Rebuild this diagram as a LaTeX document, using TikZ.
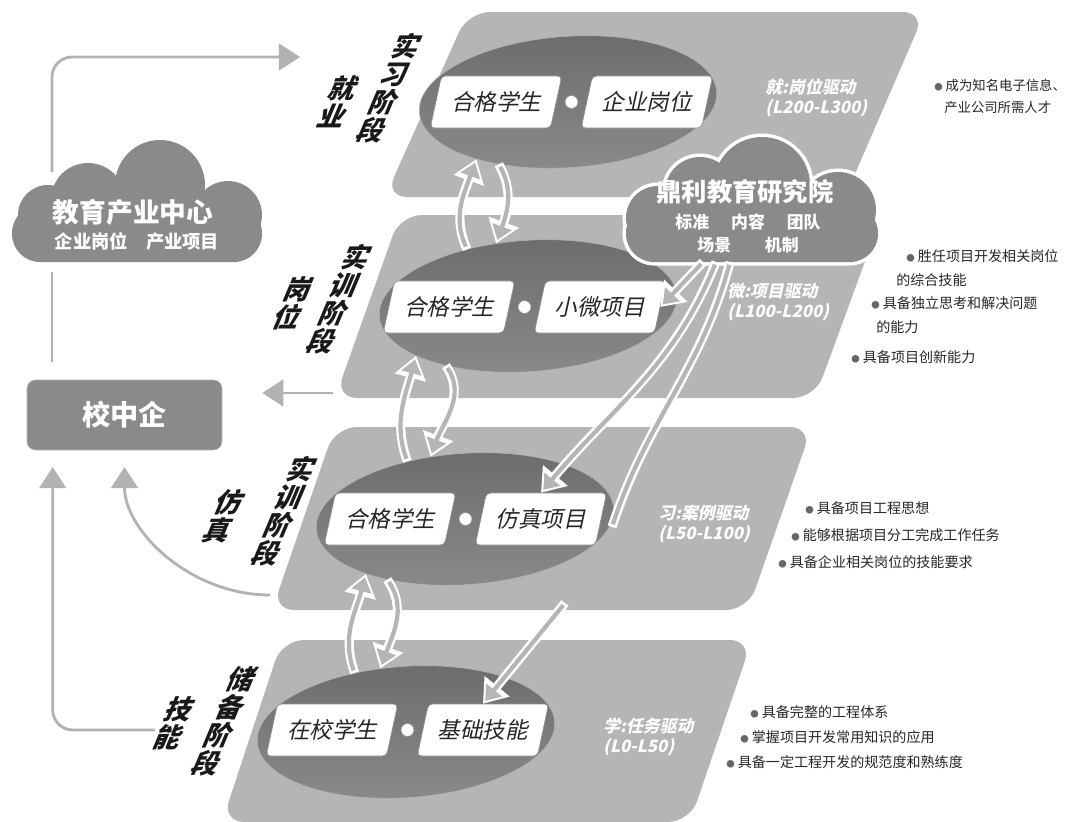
\documentclass[tikz,border=0pt]{standalone}
\usepackage{fontspec}
\setmainfont{Noto Sans CJK SC}
\newfontfamily\slantfont{Noto Sans CJK SC}[FakeSlant=0.22]
\usetikzlibrary{shapes.geometric, arrows.meta, positioning}

\definecolor{panelgray}{HTML}{B5B5B5}
\definecolor{ovaltop}{HTML}{6C6C6C}
\definecolor{ovalbot}{HTML}{8A8A8A}
\definecolor{cloudgray}{HTML}{8A8A8A}
\definecolor{linegray}{HTML}{B2B2B2}

\tikzstyle{panel} = [fill=panelgray, rounded corners=0.55cm]
\tikzstyle{oval} = [
  ellipse, rotate=4, inner sep=0pt, minimum width=7.45cm, minimum height=3.28cm,
  top color=ovaltop, bottom color=ovalbot, draw=black!30
]
\tikzstyle{tag} = [
  trapezium, trapezium left angle=66, trapezium right angle=114,
  trapezium stretches=true, minimum width=3.3cm, minimum height=1.3cm,
  inner sep=0pt, fill=white, draw=black!45, rounded corners=3pt,
  text=black!85, font=\slantfont\fontsize{16}{18}\selectfont
]
\tikzstyle{joint} = [circle, fill=white, draw=black!40, minimum size=0.32cm, inner sep=0pt]
\tikzstyle{stagelbl} = [
  anchor=north, align=center, inner sep=0pt, xslant=0.42,
  text=black!90, font=\bfseries\fontsize{19}{20}\selectfont
]
\tikzstyle{drive} = [
  anchor=west, align=left, inner sep=0pt, text=white,
  font=\slantfont\bfseries\fontsize{12}{14}\selectfont
]
\tikzstyle{goal} = [anchor=west, inner sep=0pt, text=black!85, font=\fontsize{10}{12}\selectfont]
\tikzstyle{cloudtext} = [inner sep=0pt, text=white, font=\bfseries]
\tikzset{
  hollow/.style={
    draw=panelgray, line width=3pt, shorten <=2pt, shorten >=2.6pt,
    -{Triangle[length=10pt,width=14pt]},
    preaction={draw=white, line width=6.5pt, shorten <=0pt, shorten >=0pt,
      -{Triangle[length=16pt,width=22pt]}}
  },
  hollowbar/.style={
    draw=panelgray, line width=3pt, shorten <=2pt, shorten >=2pt,
    preaction={draw=white, line width=6.5pt, shorten <=0pt, shorten >=0pt}
  },
  feed/.style={draw=linegray, line width=2pt, -{Triangle[length=15pt,width=19pt]}},
  feedline/.style={draw=linegray, line width=2pt},
  puffline/.style={draw=white, line width=5pt},
  puff/.style={fill=cloudgray}
}
\newcommand\dotb{{\color{black!60}\fontsize{6}{6}\selectfont ●}\ }

\begin{document}
\begin{tikzpicture}[x=0.025cm, y=-0.025cm]
\useasboundingbox (0,0) rectangle (1073,822);

% ------------------------------------------------
% PANELES (cuatro etapas)
% ------------------------------------------------

\fill[panel] (468,12) -- (925,12) -- (845,197) -- (385,197) -- cycle;
\fill[panel] (400,215) -- (882,215) -- (815,398) -- (335,398) -- cycle;
\fill[panel] (335,427) -- (812,427) -- (748,610) -- (272,610) -- cycle;
\fill[panel] (282,640) -- (752,640) -- (690,822) -- (222,822) -- cycle;

% ------------------------------------------------
% ELIPSES Y CAJAS
% ------------------------------------------------

\node[oval] (e1) at (568,102) {};
\node[oval] (e2) at (528,306) {};
\node[oval] (e3) at (465,519) {};
\node[oval] (e4) at (406,732) {};

\node[tag] (b11) at (496,102) {合格学生};
\node[joint, right=0.21cm of b11] (d1) {};
\node[tag, right=0.21cm of d1] (b12) {企业岗位};

\node[tag] (b21) at (449,307) {合格学生};
\node[joint, right=0.21cm of b21] (d2) {};
\node[tag, right=0.21cm of d2] (b22) {小微项目};

\node[tag] (b31) at (390,519) {合格学生};
\node[joint, right=0.21cm of b31] (d3) {};
\node[tag, right=0.21cm of d3] (b32) {仿真项目};

\node[tag] (b41) at (332,730) {在校学生};
\node[joint, right=0.21cm of b41] (d4) {};
\node[tag, right=0.21cm of d4] (b42) {基础技能};

% ------------------------------------------------
% ETIQUETAS DE ETAPA
% ------------------------------------------------

\node[stagelbl] (s1a) at (413,33) {实\\习\\阶\\段};
\node[stagelbl] (s1b) at (350,75) {就\\业};
\node[stagelbl] (s2a) at (363,244) {实\\训\\阶\\段};
\node[stagelbl] (s2b) at (305,276) {岗\\位};
\node[stagelbl] (s3a) at (308,456) {实\\训\\阶\\段};
\node[stagelbl] (s3b) at (236,489) {仿\\真};
\node[stagelbl] (s4a) at (248,666) {储\\备\\阶\\段};
\node[stagelbl] (s4b) at (186,696) {技\\能};

\node[drive] (v1) at (765,98) {就:岗位驱动\\(L200-L300)};
\node[drive] (v2) at (727,302) {微:项目驱动\\(L100-L200)};
\node[drive] (v3) at (658,524) {习:案例驱动\\(L50-L100)};
\node[drive] (v4) at (603,737) {学:任务驱动\\(L0-L50)};

% ------------------------------------------------
% NUBES Y CAJA IZQUIERDA
% ------------------------------------------------

\foreach \cx/\cy/\r in {48/215/30, 88/200/37, 160/185/45, 228/215/34}
  \draw[puffline] (\cx,\cy) circle[radius=\r];
\draw[puffline, rounded corners=0.7cm] (12,205) rectangle (262,262);
\foreach \cx/\cy/\r in {48/215/30, 88/200/37, 160/185/45, 228/215/34}
  \fill[puff] (\cx,\cy) circle[radius=\r];
\fill[puff, rounded corners=0.7cm] (12,205) rectangle (262,262);

\node[cloudtext] (edu) at (133,212)
  {\fontsize{19}{21}\selectfont 教育产业中心};
\node[cloudtext] (eduSub) at (137,242)
  {\fontsize{13}{15}\selectfont 企业岗位\quad 产业项目};

\foreach \cx/\cy/\r in {658/218/32, 700/192/35, 762/185/48, 838/210/38}
  \draw[puffline] (\cx,\cy) circle[radius=\r];
\draw[puffline, rounded corners=0.7cm] (626,205) rectangle (878,262);
\foreach \cx/\cy/\r in {658/218/32, 700/192/35, 762/185/48, 838/210/38}
  \fill[puff] (\cx,\cy) circle[radius=\r];
\fill[puff, rounded corners=0.7cm] (626,205) rectangle (878,262);

\node[cloudtext] (dl) at (745,192)
  {\fontsize{18}{20}\selectfont 鼎利教育研究院};
\node[cloudtext] (dlA) at (748,222)
  {\fontsize{12}{14}\selectfont 标准\hspace{1.3em}内容\hspace{1.3em}团队};
\node[cloudtext] (dlB) at (748,245)
  {\fontsize{12}{14}\selectfont 场景\hspace{2em}机制};

\node[fill=cloudgray, draw=black!25, rounded corners=6pt, minimum width=4.875cm,
  minimum height=1.75cm, text=white, font=\bfseries\fontsize{20}{22}\selectfont]
  (xzq) at (124.5,415) {校中企};

% ------------------------------------------------
% FLECHAS HUECAS
% ------------------------------------------------

\coordinate (ray1) at (703,262);
\coordinate (ray2) at (716,262);
\coordinate (ray3) at (730,262);
\coordinate (r3end) at (612,527);
\coordinate (r4start) at (565,603);

\draw[hollow] (ray1) -- (b22.east);
\draw[hollow] (ray2) to[out=-112, in=50] (b32.north);
\draw[hollowbar] (ray3) to[out=-105, in=72] (r3end);
\draw[hollow] (r4start) -- (b42.north);

\draw[hollow] (e2.133) to[out=115, in=250] (e1.208);
\draw[hollow] (e1.218) to[out=-60, in=70] (e2.113);

\draw[hollow] (e3.131) to[out=110, in=255] (e2.200);
\draw[hollow] (e2.212) to[out=-55, in=70] (e3.115);

\draw[hollow] (e4.127) to[out=110, in=255] (e3.205);
\draw[hollow] (e3.214) to[out=-55, in=70] (e4.108);

% ------------------------------------------------
% FLECHAS GRISES (lado izquierdo)
% ------------------------------------------------

\coordinate (eduTop) at (52,172);
\coordinate (eduBot) at (52,272);
\coordinate (p1w) at (300,57);
\coordinate (p2w) at (333,393);
\coordinate (p3w) at (270,595);
\coordinate (p4w) at (155,730);

\draw[feed, rounded corners=0.5cm] (eduTop) |- (p1w);
\draw[feedline, shorten >=0.45cm] (eduBot) -- (eduBot |- xzq.north);
\draw[feed, shorten >=1cm] (p2w) -- (p2w -| xzq.east);
\draw[feed, shorten >=0.42cm] (p3w) to[out=180, in=-90] (xzq.south);
\draw[feed, rounded corners=0.5cm, shorten >=0.42cm]
  (p4w) -| ([xshift=0.65cm]xzq.south west);

% ------------------------------------------------
% OBJETIVOS (derecha)
% ------------------------------------------------

\node[goal, font=\fontsize{9.5}{11}\selectfont] (g1a) at (934,85) {\dotb 成为知名电子信息、};
\node[goal, font=\fontsize{9.5}{11}\selectfont] (g1b) at (944,107) {产业公司所需人才};

\node[goal] (g2a) at (906,256) {\dotb 胜任项目开发相关岗位};
\node[goal] (g2b) at (896,280) {的综合技能};
\node[goal] (g2c) at (871,303) {\dotb 具备独立思考和解决问题};
\node[goal] (g2d) at (876,327) {的能力};
\node[goal] (g2e) at (851,357) {\dotb 具备项目创新能力};

\node[goal] (g3a) at (805,508) {\dotb 具备项目工程思想};
\node[goal] (g3b) at (791,535) {\dotb 能够根据项目分工完成工作任务};
\node[goal] (g3c) at (778,562) {\dotb 具备企业相关岗位的技能要求};

\node[goal] (g4a) at (750,712) {\dotb 具备完整的工程体系};
\node[goal] (g4b) at (740,737) {\dotb 掌握项目开发常用知识的应用};
\node[goal] (g4c) at (726,762) {\dotb 具备一定工程开发的规范度和熟练度};

\end{tikzpicture}
\end{document}
